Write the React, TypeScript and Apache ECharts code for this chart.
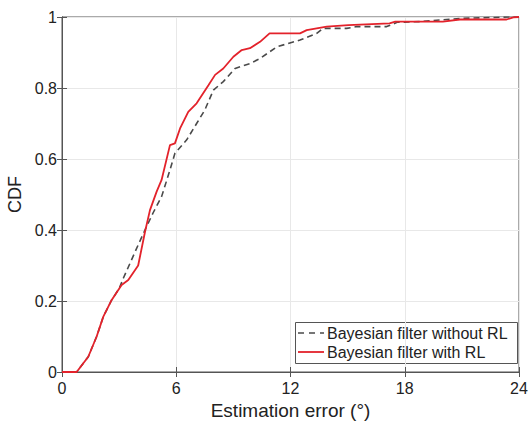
import React, { useEffect, useRef } from "react";
import * as echarts from "echarts";

const withoutRLX = [0, 0.77, 1.38, 1.82, 2.17, 2.61, 3.0, 3.22, 4.0, 4.4, 4.8, 5.23, 5.67, 5.93, 6.55, 7.07, 7.5, 7.95, 8.47, 9.09, 9.87, 10.4, 11.28, 12.5, 13.38, 13.7, 14.95, 15.48, 17.05, 17.6, 18.8, 20.9, 23.5, 24];
const withoutRLY = [0, 0, 0.043, 0.1, 0.156, 0.203, 0.235, 0.264, 0.358, 0.405, 0.45, 0.494, 0.569, 0.616, 0.654, 0.7, 0.738, 0.794, 0.818, 0.855, 0.869, 0.883, 0.916, 0.935, 0.954, 0.968, 0.968, 0.973, 0.973, 0.985, 0.987, 0.996, 1.0, 1.0];

const withRLX = [0, 0.77, 1.38, 1.82, 2.17, 2.61, 3.13, 3.48, 4.0, 4.36, 4.62, 4.97, 5.23, 5.67, 5.93, 6.2, 6.63, 7.07, 7.69, 8.04, 8.47, 9.0, 9.44, 9.87, 10.4, 10.9, 12.5, 12.85, 13.9, 15.04, 17.2, 17.5, 20.0, 20.9, 23.35, 23.7, 24];
const withRLY = [0, 0, 0.043, 0.1, 0.156, 0.203, 0.245, 0.259, 0.3, 0.395, 0.456, 0.508, 0.541, 0.639, 0.644, 0.686, 0.733, 0.757, 0.808, 0.837, 0.855, 0.888, 0.907, 0.912, 0.93, 0.954, 0.954, 0.963, 0.973, 0.977, 0.982, 0.987, 0.987, 0.993, 0.993, 0.999, 1];

const xTicks = [0, 6, 12, 18, 24];
const yTicks = [0, 0.2, 0.4, 0.6, 0.8, 1];
const seriesNames = ["Bayesian filter without RL", "Bayesian filter with RL"];

const FONT = "'Liberation Sans', Arial, Helvetica, sans-serif";
const GRAY = "#4a4a4a";
const RED = "#e3222b";

export default function App() {
  const ref = useRef<HTMLDivElement>(null);
  useEffect(() => {
    if (!ref.current) return;
    const chart = echarts.init(ref.current, undefined, { renderer: "svg" });
    const zip = (xs: number[], ys: number[]) => xs.map((x, i) => [x, ys[i]]);
    const axisLine = { show: true, lineStyle: { color: "#555", width: 1 } };
    const tick = { show: true, inside: true, length: 5, lineStyle: { color: "#555" } };
    chart.setOption({
      animation: false,
      backgroundColor: "#fff",
      textStyle: { fontFamily: FONT },
      grid: {
        left: 62,
        right: 12,
        top: 17,
        bottom: 49,
        containLabel: false,
        outerBoundsMode: "none",
        show: true,
        borderColor: "#555",
        borderWidth: 1,
        backgroundColor: "transparent",
      },
      xAxis: [
        {
          type: "value",
          min: 0,
          max: 24,
          interval: 6,
          name: "Estimation error (°)",
          nameLocation: "middle",
          nameGap: 28,
          nameTextStyle: { fontFamily: FONT, fontSize: 19, color: "#222" },
          axisLine,
          axisTick: tick,
          axisLabel: { fontFamily: FONT, fontSize: 16, color: "#222", margin: 8, formatter: (v: number) => (xTicks.includes(v) ? String(v) : "") },
          splitLine: { show: true, lineStyle: { color: "#e8e8e8", width: 1 } },
        },
        {
          type: "value",
          position: "top",
          min: 0,
          max: 24,
          interval: 6,
          axisLine,
          axisTick: tick,
          axisLabel: { show: false },
          splitLine: { show: false },
        },
      ],
      yAxis: [
        {
          type: "value",
          min: 0,
          max: 1,
          interval: 0.2,
          name: "CDF",
          nameLocation: "middle",
          nameGap: 30,
          nameRotate: 90,
          nameTextStyle: { fontFamily: FONT, fontSize: 18, color: "#222" },
          axisLine,
          axisTick: tick,
          axisLabel: {
            fontFamily: FONT,
            fontSize: 16,
            color: "#222",
            margin: 5,
            formatter: (v: number) => {
              const t = yTicks.find((y) => Math.abs(y - v) < 1e-9);
              return t === undefined ? "" : String(t);
            },
          },
          splitLine: { show: true, lineStyle: { color: "#e8e8e8", width: 1 } },
        },
        {
          type: "value",
          position: "right",
          min: 0,
          max: 1,
          interval: 0.2,
          axisLine,
          axisTick: tick,
          axisLabel: { show: false },
          splitLine: { show: false },
        },
      ],
      graphic: [
        {
          type: "group",
          z: 100,
          children: [
            { type: "rect", shape: { x: 295.5, y: 322.5, width: 222, height: 41 }, style: { fill: "#fff", stroke: "#555", lineWidth: 1 } },
            { type: "line", shape: { x1: 298, y1: 333, x2: 324, y2: 333 }, style: { stroke: GRAY, lineWidth: 1.6, lineDash: [6, 5] } },
            { type: "line", shape: { x1: 298, y1: 352, x2: 324, y2: 352 }, style: { stroke: RED, lineWidth: 1.8 } },
            { type: "text", x: 327, y: 333, style: { text: seriesNames[0], fontFamily: FONT, fontSize: 16, fill: "#222", verticalAlign: "middle", align: "left" } },
            { type: "text", x: 327, y: 352, style: { text: seriesNames[1], fontFamily: FONT, fontSize: 16, fill: "#222", verticalAlign: "middle", align: "left" } },
          ],
        },
      ],
      series: [
        {
          name: seriesNames[0],
          type: "line",
          data: zip(withoutRLX, withoutRLY),
          showSymbol: false,
          symbol: "none",
          lineStyle: { color: GRAY, width: 1.6, type: [6, 4] },
          itemStyle: { color: GRAY },
          z: 3,
        },
        {
          name: seriesNames[1],
          type: "line",
          data: zip(withRLX, withRLY),
          showSymbol: false,
          symbol: "none",
          lineStyle: { color: RED, width: 1.8 },
          itemStyle: { color: RED },
          z: 4,
        },
      ],
    });
    return () => chart.dispose();
  }, []);
  return <div ref={ref} style={{ width: 531, height: 421, position: "absolute", left: 0, top: 0 }} />;
}
